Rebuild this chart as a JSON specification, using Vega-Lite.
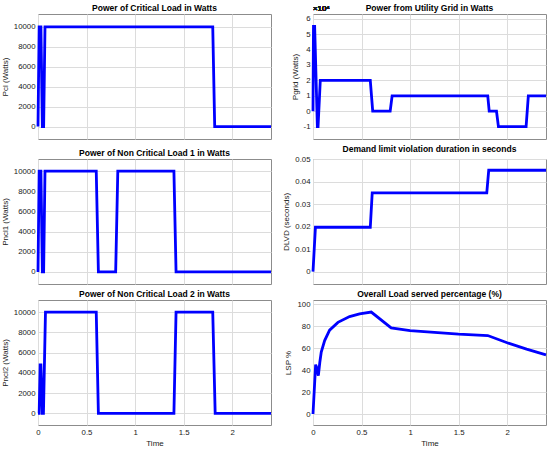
{
  "$schema": "https://vega.github.io/schema/vega-lite/v6.json",
  "background": "white",
  "padding": {"left": 0, "top": 3, "right": 4, "bottom": 2},
  "datasets": {
    "pcl": [
      {"t": 0, "v": 0}, {"t": 0.012, "v": 10000}, {"t": 0.03, "v": 10000}, {"t": 0.045, "v": 0},
      {"t": 0.058, "v": 0}, {"t": 0.072, "v": 10000}, {"t": 1.8, "v": 10000}, {"t": 1.82, "v": 0},
      {"t": 2.4, "v": 0}
    ],
    "pgrid": [
      {"t": 0, "v": 0}, {"t": 0.005, "v": 55000}, {"t": 0.017, "v": 55000}, {"t": 0.045, "v": -10000},
      {"t": 0.052, "v": -10000}, {"t": 0.075, "v": 20000}, {"t": 0.59, "v": 20000}, {"t": 0.615, "v": 0},
      {"t": 0.795, "v": 0}, {"t": 0.815, "v": 10000}, {"t": 1.8, "v": 10000}, {"t": 1.815, "v": 0},
      {"t": 1.89, "v": 0}, {"t": 1.91, "v": -10000}, {"t": 2.195, "v": -10000}, {"t": 2.218, "v": 10000},
      {"t": 2.4, "v": 10000}
    ],
    "pncl1": [
      {"t": 0, "v": 0}, {"t": 0.012, "v": 10000}, {"t": 0.03, "v": 10000}, {"t": 0.045, "v": 0},
      {"t": 0.058, "v": 0}, {"t": 0.072, "v": 10000}, {"t": 0.6, "v": 10000}, {"t": 0.622, "v": 0},
      {"t": 0.8, "v": 0}, {"t": 0.822, "v": 10000}, {"t": 1.4, "v": 10000}, {"t": 1.422, "v": 0},
      {"t": 2.4, "v": 0}
    ],
    "dlvd": [
      {"t": 0, "v": 0}, {"t": 0.025, "v": 0.0197}, {"t": 0.59, "v": 0.0197}, {"t": 0.61, "v": 0.035},
      {"t": 1.79, "v": 0.035}, {"t": 1.81, "v": 0.045}, {"t": 2.4, "v": 0.045}
    ],
    "pncl2": [
      {"t": 0, "v": 0}, {"t": 0.012, "v": 0}, {"t": 0.022, "v": 4800}, {"t": 0.03, "v": 4800},
      {"t": 0.045, "v": 0}, {"t": 0.056, "v": 0}, {"t": 0.077, "v": 10000}, {"t": 0.6, "v": 10000},
      {"t": 0.622, "v": 0}, {"t": 1.4, "v": 0}, {"t": 1.422, "v": 10000}, {"t": 1.8, "v": 10000},
      {"t": 1.825, "v": 0}, {"t": 2.4, "v": 0}
    ],
    "lsp": [
      {"t": 0, "v": 0}, {"t": 0.027, "v": 45}, {"t": 0.036, "v": 43}, {"t": 0.055, "v": 35},
      {"t": 0.07, "v": 47}, {"t": 0.085, "v": 56.5}, {"t": 0.12, "v": 67}, {"t": 0.171, "v": 76.5},
      {"t": 0.257, "v": 83.6}, {"t": 0.377, "v": 88.9}, {"t": 0.48, "v": 91.4}, {"t": 0.6, "v": 93},
      {"t": 0.805, "v": 78.5}, {"t": 1.0, "v": 76}, {"t": 1.5, "v": 72.8}, {"t": 1.8, "v": 71.6},
      {"t": 2.0, "v": 65}, {"t": 2.2, "v": 59.2}, {"t": 2.4, "v": 54}
    ]
  },
  "spacing": {"row": 4, "column": 4},
  "columns": 2,
  "concat": [
    {
      "width": 233, "height": 125,
      "title": "Power of Critical Load in Watts",
      "data": {"name": "pcl"},
      "mark": {"type": "line", "color": "#0000ff", "strokeWidth": 2.8},
      "encoding": {
        "x": {"field": "t", "type": "quantitative", "scale": {"domain": [0, 2.4], "nice": false},
              "axis": {"values": [0, 0.5, 1, 1.5, 2], "labels": false, "title": null}},
        "y": {"field": "v", "type": "quantitative", "scale": {"domain": [-1250, 11300], "nice": false},
              "axis": {"values": [0, 2000, 4000, 6000, 8000, 10000], "title": "Pcl (Watts)"}}
      }
    },
    {
      "width": 233, "height": 125,
      "title": {"text": "Power from Utility Grid in Watts", "offset": -7},
      "data": {"name": "pgrid"},
      "layer": [
        {
          "mark": {"type": "line", "color": "#0000ff", "strokeWidth": 2.8},
          "encoding": {
            "x": {"field": "t", "type": "quantitative", "scale": {"domain": [0, 2.4], "nice": false},
                  "axis": {"values": [0, 0.5, 1, 1.5, 2], "labels": false, "title": null, "tickCount": 20}},
            "y": {"field": "v", "type": "quantitative", "scale": {"domain": [-18000, 63000], "nice": false},
                  "axis": {"values": [-10000, 0, 10000, 20000, 30000, 40000, 50000, 60000], "tickCount": 20,
                           "labelExpr": "'' + (datum.value / 10000)", "labelOverlap": false,
                           "title": "Pgrid (Watts)"}}
          }
        },
        {
          "mark": {"type": "text", "text": "×10⁴", "align": "left", "baseline": "bottom", "dy": -1, "fontSize": 7.8, "color": "#1a1a1a"},
          "encoding": {
            "x": {"datum": 0, "type": "quantitative",
                  "axis": {"values": [0, 0.5, 1, 1.5, 2], "labels": false, "title": null, "tickCount": 20}},
            "y": {"datum": 63000, "type": "quantitative",
                  "axis": {"values": [-10000, 0, 10000, 20000, 30000, 40000, 50000, 60000], "tickCount": 20,
                           "labelExpr": "'' + (datum.value / 10000)", "labelOverlap": false,
                           "title": "Pgrid (Watts)"}}
          }
        }
      ]
    },
    {
      "width": 233, "height": 125,
      "title": "Power of Non Critical Load 1 in Watts",
      "data": {"name": "pncl1"},
      "mark": {"type": "line", "color": "#0000ff", "strokeWidth": 2.8},
      "encoding": {
        "x": {"field": "t", "type": "quantitative", "scale": {"domain": [0, 2.4], "nice": false},
              "axis": {"values": [0, 0.5, 1, 1.5, 2], "labels": false, "title": null}},
        "y": {"field": "v", "type": "quantitative", "scale": {"domain": [-1200, 11200], "nice": false},
              "axis": {"values": [0, 2000, 4000, 6000, 8000, 10000], "title": "Pncl1 (Watts)"}}
      }
    },
    {
      "width": 233, "height": 125,
      "title": "Demand limit violation duration in seconds",
      "data": {"name": "dlvd"},
      "mark": {"type": "line", "color": "#0000ff", "strokeWidth": 2.8},
      "encoding": {
        "x": {"field": "t", "type": "quantitative", "scale": {"domain": [0, 2.4], "nice": false},
              "axis": {"values": [0, 0.5, 1, 1.5, 2], "labels": false, "title": null}},
        "y": {"field": "v", "type": "quantitative", "scale": {"domain": [-0.0055, 0.05], "nice": false},
              "axis": {"values": [0, 0.01, 0.02, 0.03, 0.04, 0.05], "title": "DLVD (seconds)"}}
      }
    },
    {
      "width": 233, "height": 125,
      "title": "Power of Non Critical Load 2 in Watts",
      "data": {"name": "pncl2"},
      "mark": {"type": "line", "color": "#0000ff", "strokeWidth": 2.8},
      "encoding": {
        "x": {"field": "t", "type": "quantitative", "scale": {"domain": [0, 2.4], "nice": false},
              "axis": {"values": [0, 0.5, 1, 1.5, 2], "title": "Time"}},
        "y": {"field": "v", "type": "quantitative", "scale": {"domain": [-1150, 11200], "nice": false},
              "axis": {"values": [0, 2000, 4000, 6000, 8000, 10000], "title": "Pncl2 (Watts)"}}
      }
    },
    {
      "width": 233, "height": 125,
      "title": "Overall Load served percentage (%)",
      "data": {"name": "lsp"},
      "mark": {"type": "line", "color": "#0000ff", "strokeWidth": 2.8},
      "encoding": {
        "x": {"field": "t", "type": "quantitative", "scale": {"domain": [0, 2.4], "nice": false},
              "axis": {"values": [0, 0.5, 1, 1.5, 2], "title": "Time"}},
        "y": {"field": "v", "type": "quantitative", "scale": {"domain": [-10, 104], "nice": false},
              "axis": {"values": [0, 20, 40, 60, 80, 100], "title": "LSP %"}}
      }
    }
  ],
  "config": {
    "font": "Liberation Sans",
    "view": {"stroke": "#8c8c8c", "strokeWidth": 1},
    "axis": {
      "grid": true, "gridColor": "#dcdcdc", "ticks": false, "domain": false, "tickCount": 20,
      "labelExpr": "datum.value", "labelOverlap": false, "labelFlush": false,
      "labelFontSize": 7.8, "labelColor": "#1a1a1a", "labelPadding": 3,
      "titleFontSize": 8, "titleFontWeight": "normal", "titleColor": "#1a1a1a", "titlePadding": 4
    },
    "title": {"fontSize": 8.5, "fontWeight": "bold", "offset": 2, "color": "#000000"}
  }
}
